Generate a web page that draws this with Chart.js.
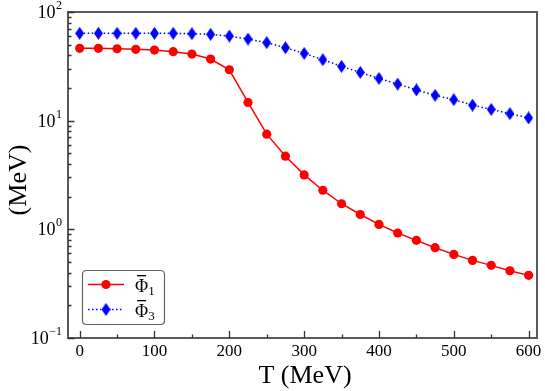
<!DOCTYPE html>
<html>
<head>
<meta charset="utf-8">
<script src="https://cdn.jsdelivr.net/npm/chart.js@4"></script>
<style>
html,body{margin:0;padding:0;background:#fff;}
#wrap{width:545px;height:391px;position:relative;}
</style>
</head>
<body>
<div id="wrap"><canvas id="c" width="545" height="391"></canvas></div>
<script>
const temperatures = [0,25,50,75,100,125,150,175,200,225,250,275,300,325,350,375,400,425,450,475,500,525,550,575,600];
const phi1 = [46.3,46.3,45.9,45.3,44.6,43.1,41.0,36.9,29.4,14.7,7.51,4.71,3.17,2.29,1.72,1.37,1.11,0.925,0.792,0.678,0.588,0.518,0.466,0.416,0.377];
const phi3 = [63.6,63.6,63.6,63.6,63.6,63.6,63.1,62.3,60.1,56.4,52.2,46.9,41.6,36.4,31.6,27.8,24.5,21.7,19.2,17.1,15.6,13.9,12.7,11.6,10.6];
const xTickValues = [0,100,200,300,400,500,600];
const xMinorValues = [50,150,250,350,450,550];
const yDecades = [-1,0,1,2];
const seriesLabels = ['1','3'];
const xTitle = 'T (MeV)';
const yTitle = '(MeV)';

const SERIF = '"Liberation Serif","DejaVu Serif",serif';

function diamondCanvas(w,h,color){
  const c=document.createElement('canvas');c.width=w;c.height=h;
  const g=c.getContext('2d');g.fillStyle=color;g.beginPath();
  g.moveTo(w/2,0);g.lineTo(w,h/2);g.lineTo(w/2,h);g.lineTo(0,h/2);g.closePath();g.fill();
  return c;
}
const diamond = diamondCanvas(9,13,'#0000ff');

const frame = {
  id:'frame',
  afterDraw(chart){
    const ctx=chart.ctx, a=chart.chartArea, xs=chart.scales.x, ys=chart.scales.y;
    ctx.save();
    // frame
    ctx.strokeStyle='#5a5a5a';ctx.lineWidth=2;
    ctx.strokeRect(a.left,a.top,a.right-a.left,a.bottom-a.top);
    ctx.lineWidth=1.3;ctx.strokeStyle='#333';
    // x ticks
    ctx.beginPath();
    xTickValues.forEach(v=>{const p=Math.round(xs.getPixelForValue(v))+0.5;ctx.moveTo(p,a.bottom);ctx.lineTo(p,a.bottom-7);});
    xMinorValues.forEach(v=>{const p=Math.round(xs.getPixelForValue(v))+0.5;ctx.moveTo(p,a.bottom);ctx.lineTo(p,a.bottom-3.5);});
    // y ticks
    yDecades.forEach(d=>{
      const base=Math.pow(10,d);
      const p=Math.round(ys.getPixelForValue(base))+0.5;
      ctx.moveTo(a.left,p);ctx.lineTo(a.left+6.5,p);
      if(d<2){for(let m=2;m<=9;m++){const q=Math.round(ys.getPixelForValue(base*m))+0.5;ctx.moveTo(a.left,q);ctx.lineTo(a.left+3.5,q);}}
    });
    ctx.stroke();
    // x tick labels
    ctx.fillStyle='#000';ctx.font='17px '+SERIF;ctx.textAlign='center';ctx.textBaseline='alphabetic';
    xTickValues.forEach(v=>{ctx.fillText(String(v),xs.getPixelForValue(v),356);});
    // y tick labels 10^d
    yDecades.forEach(d=>{
      const p=ys.getPixelForValue(Math.pow(10,d));
      const exp = d<0 ? '\u2212'+Math.abs(d) : String(d);
      ctx.font='12px '+SERIF;
      const ew=ctx.measureText(exp).width;
      const right=62;
      ctx.textAlign='left';
      ctx.fillText(exp,right-ew,p-3);
      ctx.font='18px '+SERIF;
      ctx.textAlign='right';
      ctx.fillText('10',right-ew-0.5,p+6);
    });
    // axis titles
    ctx.font='26px '+SERIF;ctx.textAlign='center';
    ctx.fillText(xTitle,305,383);
    ctx.save();ctx.translate(26,180);ctx.rotate(-Math.PI/2);ctx.fillText(yTitle,0,0);ctx.restore();
    // legend
    const lx=82.5, ly=270.5, lw=82, lh=54, r=4;
    ctx.beginPath();
    ctx.moveTo(lx+r,ly);ctx.lineTo(lx+lw-r,ly);ctx.quadraticCurveTo(lx+lw,ly,lx+lw,ly+r);
    ctx.lineTo(lx+lw,ly+lh-r);ctx.quadraticCurveTo(lx+lw,ly+lh,lx+lw-r,ly+lh);
    ctx.lineTo(lx+r,ly+lh);ctx.quadraticCurveTo(lx,ly+lh,lx,ly+lh-r);
    ctx.lineTo(lx,ly+r);ctx.quadraticCurveTo(lx,ly,lx+r,ly);ctx.closePath();
    ctx.fillStyle='#fff';ctx.fill();ctx.strokeStyle='#666';ctx.lineWidth=1.2;ctx.stroke();
    const rows=[284.5,309.5];
    chart.data.datasets.forEach((ds,i)=>{
      const y=rows[i];
      ctx.strokeStyle=ds.borderColor;ctx.lineWidth=1.5;ctx.setLineDash(ds.borderDash||[]);
      ctx.beginPath();ctx.moveTo(88,y);ctx.lineTo(124,y);ctx.stroke();ctx.setLineDash([]);
      if(i===0){ctx.fillStyle=ds.pointBackgroundColor;ctx.beginPath();ctx.arc(106,y,4.6,0,Math.PI*2);ctx.fill();}
      else{ctx.drawImage(diamond,106-4.5,y-6.5);}
      ctx.fillStyle='#000';ctx.font='18px '+SERIF;ctx.textAlign='left';
      ctx.fillText('\u03A6',135,y+7);
      const fw=ctx.measureText('\u03A6').width;
      ctx.fillRect(137,y-9.5,fw-4,1.3);
      ctx.font='13px '+SERIF;ctx.fillText(seriesLabels[i],135+fw,y+10);
    });
    ctx.restore();
  }
};

new Chart(document.getElementById('c'),{
  type:'line',
  data:{datasets:[
    {label:'Phi1',data:temperatures.map((t,i)=>({x:t,y:phi1[i]})),borderColor:'#ff0000',backgroundColor:'#ff0000',
     pointBackgroundColor:'#ff0000',pointBorderColor:'#ff0000',pointRadius:4.6,pointBorderWidth:0,borderWidth:1.5,tension:0},
    {label:'Phi3',data:temperatures.map((t,i)=>({x:t,y:phi3[i]})),borderColor:'#0000ff',backgroundColor:'#0000ff',
     pointBackgroundColor:'#0000ff',pointStyle:diamond,borderWidth:1.5,borderDash:[1.5,2.5],tension:0}
  ]},
  options:{
    responsive:false,animation:false,
    layout:{padding:{left:68,right:8,top:12,bottom:53}},
    plugins:{legend:{display:false},tooltip:{enabled:false}},
    scales:{
      x:{type:'linear',min:-15.6,max:611.2,display:false},
      y:{type:'logarithmic',min:0.1,max:100,display:false}
    }
  },
  plugins:[frame]
});
</script>
</body>
</html>
